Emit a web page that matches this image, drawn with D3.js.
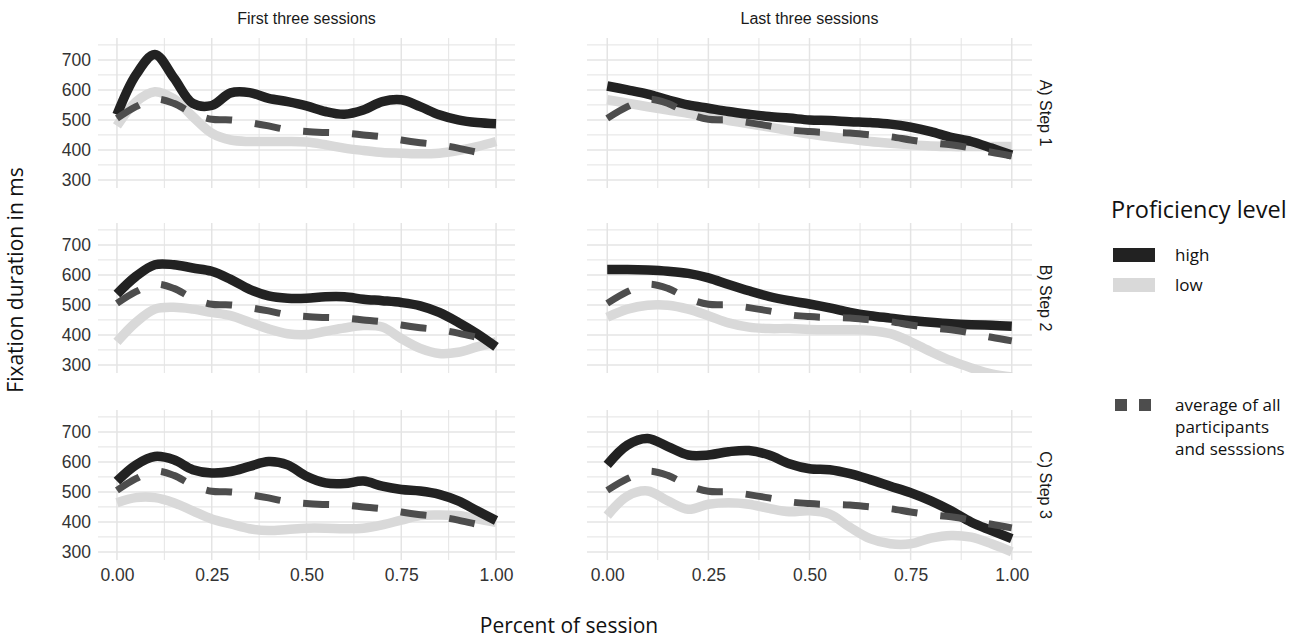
<!DOCTYPE html>
<html>
<head>
<meta charset="utf-8">
<script src="https://cdn.jsdelivr.net/npm/d3@7"></script>
<style>
body{margin:0;background:#fff;}
svg{display:block;}
</style>
</head>
<body>
<script>
// x positions (percent of session) shared by every curve
var xPos = [0,0.05,0.1,0.15,0.2,0.25,0.3,0.35,0.4,0.45,0.5,0.55,0.6,0.65,0.7,0.75,0.8,0.85,0.9,0.95,1];

// average of all participants and sessions (same in every panel)
var average = [505,544,569,555,522,502,500,491,480,467,461,458,456,450,444,433,424,417,406,392,380];

// first three sessions
var firstStep1High = [517,650,718,640,555,548,590,591,572,561,547,528,519,533,561,567,544,517,500,491,487];
var firstStep1Low  = [480,560,594,570,511,456,433,428,428,428,426,417,406,398,391,389,387,389,398,411,428];
var firstStep2High = [536,595,634,634,623,612,585,552,530,522,522,527,527,519,514,508,497,475,442,404,360];
var firstStep2Low  = [377,442,486,492,486,475,464,442,420,404,401,412,423,431,426,388,355,338,342,360,377];
var firstStep3High = [536,590,618,607,574,563,568,585,601,590,552,530,528,536,519,508,503,492,470,437,405];
var firstStep3Low  = [464,481,481,464,437,410,393,377,371,375,379,379,377,379,390,406,421,423,421,410,399];

// last three sessions
var lastStep1High = [613,600,586,567,550,539,528,519,511,506,500,498,494,491,486,476,461,442,428,406,383];
var lastStep1Low  = [567,556,544,533,522,509,498,487,476,464,453,444,436,428,422,417,413,411,411,411,411];
var lastStep2High = [618,618,616,612,605,590,568,547,528,514,503,490,475,464,456,448,442,437,434,432,429];
var lastStep2Low  = [459,486,499,499,486,464,440,426,421,421,418,417,417,415,404,377,344,314,290,270,260];
var lastStep3High = [590,656,678,651,623,623,634,638,623,594,577,574,561,541,519,497,470,437,399,371,344];
var lastStep3Low  = [421,486,503,470,442,459,464,459,445,434,437,426,382,344,327,327,346,355,349,327,300];

var columns = ["First three sessions","Last three sessions"];
var rows = ["A) Step 1","B) Step 2","C) Step 3"];
var xTicks = [0,0.25,0.5,0.75,1];
var yTicks = [300,400,500,600,700];

var high = [[firstStep1High,lastStep1High],[firstStep2High,lastStep2High],[firstStep3High,lastStep3High]];
var low  = [[firstStep1Low,lastStep1Low],[firstStep2Low,lastStep2Low],[firstStep3Low,lastStep3Low]];

var width = 1310, height = 639;
var colBox = [{left:98,right:515},{left:587,right:1032}];
var rowBox = [{top:38,bottom:188},{top:223,bottom:373},{top:410,bottom:560}];

var svg = d3.select("body").append("svg")
    .attr("width",width)
    .attr("height",height)
    .style("font-family","'Liberation Sans', Arial, sans-serif");

var gridColor = "#e4e4e4";
var highColor = "#222222", lowColor = "#d9d9d9", avgColor = "#4d4d4d";

function toPoints(vals){
    return xPos.map(function(x,i){ return [x, vals[i]]; });
}

rows.forEach(function(rowName, r){
    columns.forEach(function(colName, c){
        var cb = colBox[c], rb = rowBox[r];
        var xScale = d3.scaleLinear().domain([-0.05,1.05]).range([cb.left,cb.right]);
        var yScale = d3.scaleLinear().domain([273,773]).range([rb.bottom,rb.top]);

        var g = svg.append("g");
        var clipId = "clip"+r+"_"+c;
        g.append("clipPath").attr("id",clipId)
          .append("rect")
          .attr("x",cb.left).attr("y",rb.top)
          .attr("width",cb.right-cb.left).attr("height",rb.bottom-rb.top);

        // grid
        g.selectAll(".vgrid").data(d3.range(0,1.0001,0.125)).enter()
          .append("line")
          .attr("x1",function(d){return xScale(d);})
          .attr("x2",function(d){return xScale(d);})
          .attr("y1",rb.top).attr("y2",rb.bottom)
          .attr("stroke",gridColor)
          .attr("stroke-width",function(d,i){return i%2==0 ? 1.5 : 1;});
        g.selectAll(".hgrid").data(d3.range(300,751,50)).enter()
          .append("line")
          .attr("x1",cb.left).attr("x2",cb.right)
          .attr("y1",function(d){return yScale(d);})
          .attr("y2",function(d){return yScale(d);})
          .attr("stroke",gridColor)
          .attr("stroke-width",function(d){return d%100==0 ? 1.5 : 1;});

        var line = d3.line()
            .x(function(d){return xScale(d[0]);})
            .y(function(d){return yScale(d[1]);})
            .curve(d3.curveCatmullRom.alpha(0.5));

        var lines = g.append("g").attr("clip-path","url(#"+clipId+")");
        lines.append("path")
          .attr("d",line(toPoints(low[r][c])))
          .attr("fill","none").attr("stroke",lowColor).attr("stroke-width",9.5);
        lines.append("path")
          .attr("d",line(toPoints(high[r][c])))
          .attr("fill","none").attr("stroke",highColor).attr("stroke-width",9.5);
        lines.append("path")
          .attr("d",line(toPoints(average)))
          .attr("fill","none").attr("stroke",avgColor).attr("stroke-width",7)
          .attr("stroke-dasharray","26,23");

        // y axis labels on left column
        if(c==0){
            var yAxis = d3.axisLeft(yScale).tickValues(yTicks).tickSize(0).tickPadding(0);
            var ya = svg.append("g").attr("transform","translate(91,0)").call(yAxis);
            ya.select(".domain").remove();
            ya.selectAll("text").attr("font-size",17.5).attr("fill","#333")
              .style("font-family","'Liberation Sans', Arial, sans-serif");
        }
        // x axis labels on bottom row
        if(r==rows.length-1){
            var xAxis = d3.axisBottom(xScale).tickValues(xTicks).tickFormat(d3.format(".2f")).tickSize(0).tickPadding(0);
            var xa = svg.append("g").attr("transform","translate(0,569)").call(xAxis);
            xa.select(".domain").remove();
            xa.selectAll("text").attr("font-size",17.5).attr("fill","#333").attr("dy","0.71em")
              .style("font-family","'Liberation Sans', Arial, sans-serif");
        }
        // column strips
        if(r==0){
            svg.append("text")
              .attr("x",(xScale(0)+xScale(1))/2).attr("y",24)
              .attr("text-anchor","middle")
              .attr("font-size",16).attr("fill","#1a1a1a")
              .text(colName);
        }
        // row strips
        if(c==columns.length-1){
            var cy = (rb.top+rb.bottom)/2;
            svg.append("text")
              .attr("transform","translate(1040,"+cy+") rotate(90)")
              .attr("text-anchor","middle")
              .attr("font-size",16).attr("fill","#1a1a1a")
              .text(rowName);
        }
    });
});

// axis titles
svg.append("text")
  .attr("transform","translate(23,280) rotate(-90)")
  .attr("text-anchor","middle")
  .style("font-family","'Open Sans', sans-serif")
  .attr("font-size",21).attr("fill","#111")
  .text("Fixation duration in ms");

svg.append("text")
  .attr("x",569).attr("y",633)
  .attr("text-anchor","middle")
  .style("font-family","'Open Sans', sans-serif")
  .attr("font-size",21).attr("fill","#111")
  .text("Percent of session");

// legend
var legend = svg.append("g").style("font-family","'Open Sans', sans-serif");
legend.append("text").attr("x",1111).attr("y",218)
  .attr("font-size",23.5).attr("fill","#111").text("Proficiency level");
var levels = ["high","low"];
var levelColors = [highColor,lowColor];
levels.forEach(function(l,i){
    var y = 255 + i*30;
    legend.append("line").attr("x1",1113).attr("x2",1155).attr("y1",y).attr("y2",y)
      .attr("stroke",levelColors[i]).attr("stroke-width",14);
    legend.append("text").attr("x",1175).attr("y",y+6)
      .attr("font-size",17).attr("fill","#111").text(l);
});
legend.append("line").attr("x1",1115).attr("x2",1155).attr("y1",405).attr("y2",405)
  .attr("stroke",avgColor).attr("stroke-width",12).attr("stroke-dasharray","12,12");
var avgLabel = ["average of all","participants","and sesssions"];
avgLabel.forEach(function(t,i){
    legend.append("text").attr("x",1175).attr("y",411+i*22)
      .attr("font-size",17).attr("fill","#111").text(t);
});
</script>
</body>
</html>
